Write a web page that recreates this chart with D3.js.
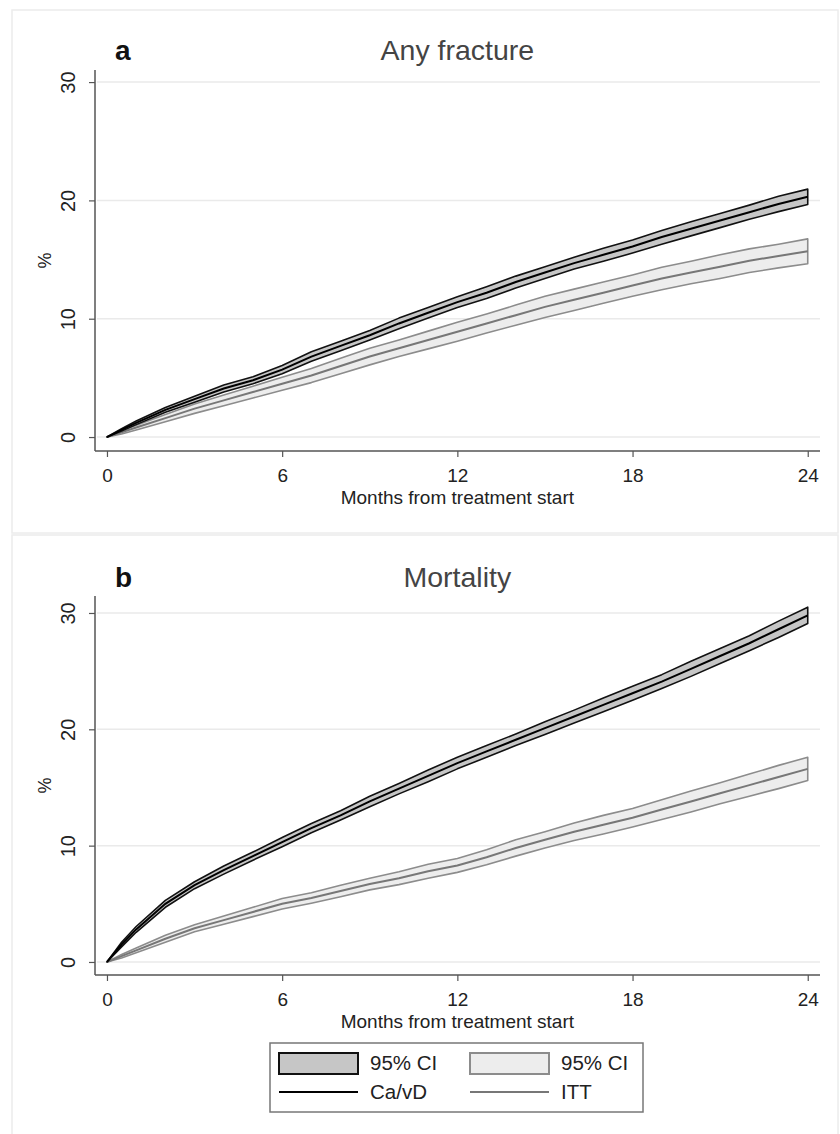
<!DOCTYPE html>
<html>
<head>
<meta charset="utf-8">
<script src="https://cdn.jsdelivr.net/npm/d3@7"></script>
<style>
  body { margin: 0; background: #fff; }
  text { font-family: "Liberation Sans", Arial, sans-serif; }
</style>
</head>
<body>
<div id="app"></div>
<script>
// months from treatment start
const months = [0, 0.5, 1, 2, 3, 4, 5, 6, 7, 8, 9, 10, 11, 12, 13, 14, 15, 16, 17, 18, 19, 20, 21, 22, 23, 24];

// a: any fracture
const fxCaVD   = [0, 0.6, 1.2, 2.3, 3.2, 4.1, 4.8, 5.7, 6.8, 7.7, 8.6, 9.6, 10.5, 11.4, 12.2, 13.1, 13.9, 14.7, 15.4, 16.1, 16.9, 17.6, 18.3, 19.0, 19.7, 20.3];
const fxCaVDLo = [0, 0.5, 1.05, 2.1, 2.95, 3.8, 4.5, 5.35, 6.4, 7.3, 8.2, 9.15, 10.05, 10.95, 11.7, 12.6, 13.4, 14.2, 14.85, 15.55, 16.3, 17.0, 17.7, 18.4, 19.05, 19.65];
const fxCaVDHi = [0, 0.7, 1.35, 2.5, 3.45, 4.4, 5.1, 6.05, 7.2, 8.1, 9.0, 10.05, 10.95, 11.85, 12.7, 13.6, 14.4, 15.2, 15.95, 16.65, 17.45, 18.2, 18.9, 19.6, 20.35, 20.95];
const fxITT    = [0, 0.4, 0.8, 1.6, 2.4, 3.1, 3.8, 4.5, 5.2, 6.0, 6.8, 7.5, 8.2, 8.9, 9.6, 10.3, 11.0, 11.6, 12.2, 12.8, 13.4, 13.9, 14.4, 14.9, 15.3, 15.7];
const fxITTLo  = [0, 0.25, 0.6, 1.3, 2.0, 2.65, 3.3, 3.95, 4.6, 5.35, 6.1, 6.8, 7.45, 8.1, 8.8, 9.45, 10.1, 10.7, 11.3, 11.9, 12.45, 12.95, 13.4, 13.9, 14.3, 14.65];
const fxITTHi  = [0, 0.55, 1.0, 1.9, 2.8, 3.55, 4.3, 5.05, 5.8, 6.65, 7.5, 8.2, 8.95, 9.7, 10.4, 11.15, 11.9, 12.5, 13.1, 13.7, 14.35, 14.85, 15.4, 15.9, 16.3, 16.75];

// b: mortality
const mtCaVD   = [0, 1.5, 2.8, 5.0, 6.6, 7.9, 9.1, 10.3, 11.5, 12.6, 13.8, 14.9, 16.0, 17.1, 18.1, 19.1, 20.1, 21.1, 22.1, 23.1, 24.1, 25.2, 26.3, 27.4, 28.6, 29.8];
const mtCaVDLo = [0, 1.3, 2.55, 4.7, 6.3, 7.55, 8.75, 9.9, 11.1, 12.2, 13.35, 14.45, 15.5, 16.6, 17.6, 18.6, 19.55, 20.55, 21.5, 22.5, 23.5, 24.55, 25.65, 26.75, 27.9, 29.1];
const mtCaVDHi = [0, 1.7, 3.05, 5.3, 6.9, 8.25, 9.45, 10.7, 11.9, 13.0, 14.25, 15.35, 16.5, 17.6, 18.6, 19.6, 20.65, 21.65, 22.7, 23.7, 24.7, 25.85, 26.95, 28.05, 29.3, 30.5];
const mtITT    = [0, 0.5, 1.0, 2.0, 2.9, 3.6, 4.3, 5.0, 5.5, 6.1, 6.7, 7.2, 7.8, 8.3, 9.0, 9.8, 10.5, 11.2, 11.8, 12.4, 13.1, 13.8, 14.5, 15.2, 15.9, 16.6];
const mtITTLo  = [0, 0.35, 0.8, 1.7, 2.6, 3.25, 3.9, 4.55, 5.05, 5.6, 6.2, 6.65, 7.2, 7.7, 8.35, 9.1, 9.8, 10.45, 11.0, 11.6, 12.25, 12.9, 13.6, 14.25, 14.9, 15.6];
const mtITTHi  = [0, 0.65, 1.2, 2.3, 3.2, 3.95, 4.7, 5.45, 5.95, 6.6, 7.2, 7.75, 8.4, 8.9, 9.65, 10.5, 11.2, 11.95, 12.6, 13.2, 13.95, 14.7, 15.4, 16.15, 16.9, 17.6];

const xTicks = [0, 6, 12, 18, 24];
const yTicks = [0, 10, 20, 30];
const panelLetters = ["a", "b"];
const panelTitles = ["Any fracture", "Mortality"];
const xLabel = "Months from treatment start";
const yLabel = "%";
const legendLabels = ["95% CI", "95% CI", "Ca/vD", "ITT"];

const W = 840, H = 1134;
const caStyle = { fill: "#c6c6c6", edge: "#111", line: "#000" };
const ittStyle = { fill: "#ededed", edge: "#8c8c8c", line: "#777" };

const svg = d3.select("#app").append("svg")
  .attr("width", W)
  .attr("height", H)
  .style("display", "block");

const x = d3.scaleLinear().domain([-0.41, 24.42]).range([95, 820]);

const panels = [
  { top: 10, bottom: 533, yDom: [-1.18, 31.02], yRange: [451, 70], titleY: 60,
    ca: [fxCaVD, fxCaVDLo, fxCaVDHi], itt: [fxITT, fxITTLo, fxITTHi] },
  { top: 535, bottom: 1160, yDom: [-1.12, 31.46], yRange: [975, 596], titleY: 587,
    ca: [mtCaVD, mtCaVDLo, mtCaVDHi], itt: [mtITT, mtITTLo, mtITTHi] }
];

panels.forEach((p, i) => {
  const g = svg.append("g");
  const y = d3.scaleLinear().domain(p.yDom).range(p.yRange);
  const axisY = p.yRange[0];

  // panel frame
  g.append("rect")
    .attr("x", 12).attr("y", p.top)
    .attr("width", 826).attr("height", p.bottom - p.top)
    .attr("fill", "#fff")
    .attr("stroke", "#ececec").attr("stroke-width", 1.5);

  // gridlines
  g.append("g").selectAll("line")
    .data(yTicks).join("line")
    .attr("x1", 97).attr("x2", 820)
    .attr("y1", d => y(d)).attr("y2", d => y(d))
    .attr("stroke", "#eaeaea").attr("stroke-width", 1.5);

  // bands + lines
  [[p.itt, ittStyle], [p.ca, caStyle]].forEach(([s, st]) => {
    const rows = months.map((m, k) => ({ m, v: s[0][k], lo: s[1][k], hi: s[2][k] }));
    g.append("path")
      .datum(rows)
      .attr("d", d3.area().x(d => x(d.m)).y0(d => y(d.lo)).y1(d => y(d.hi)))
      .attr("fill", st.fill)
      .attr("stroke", st.edge).attr("stroke-width", 1.6)
      .attr("stroke-linejoin", "round");
    g.append("path")
      .datum(rows)
      .attr("d", d3.line().x(d => x(d.m)).y(d => y(d.v)))
      .attr("fill", "none")
      .attr("stroke", st.line).attr("stroke-width", 2);
  });

  // y axis
  const ya = g.append("g")
    .attr("transform", `translate(95,0)`)
    .call(d3.axisLeft(y).tickValues(yTicks).tickSize(6).tickPadding(8).tickFormat(d3.format("d")));
  ya.select(".domain").attr("stroke", "#555").attr("stroke-width", 1.5).attr("d", `M0,${p.yRange[1]}V${axisY}`);
  ya.selectAll(".tick line").attr("stroke", "#555").attr("stroke-width", 1.2);
  ya.selectAll(".tick text")
    .attr("font-size", 20).attr("fill", "#222")
    .attr("text-anchor", "middle")
    .attr("x", null).attr("dy", null)
    .attr("transform", "translate(-20,0) rotate(-90)");

  // x axis
  const xa = g.append("g")
    .attr("transform", `translate(0,${axisY})`)
    .call(d3.axisBottom(x).tickValues(xTicks).tickSize(6).tickPadding(8));
  xa.select(".domain").attr("stroke", "#555").attr("stroke-width", 1.5).attr("d", "M95,0H820");
  xa.selectAll(".tick line").attr("stroke", "#555").attr("stroke-width", 1.2);
  xa.selectAll(".tick text").attr("font-size", 19).attr("fill", "#222")
    .attr("dy", null).attr("y", 31);

  g.append("text")
    .attr("x", x(12)).attr("y", axisY + 53)
    .attr("text-anchor", "middle")
    .attr("font-size", 19).attr("fill", "#222")
    .text(xLabel);

  g.append("text")
    .attr("transform", `translate(51,${(p.yRange[0] + p.yRange[1]) / 2}) rotate(-90)`)
    .attr("text-anchor", "middle")
    .attr("font-size", 18).attr("fill", "#222")
    .text(yLabel);

  // titles
  g.append("text")
    .attr("x", 115).attr("y", p.titleY)
    .attr("font-size", 28).attr("font-weight", "bold").attr("fill", "#111")
    .text(panelLetters[i]);
  g.append("text")
    .attr("x", x(12)).attr("y", p.titleY)
    .attr("text-anchor", "middle")
    .attr("font-size", 28.5).attr("fill", "#444")
    .text(panelTitles[i]);
});

// legend
const lg = svg.append("g");
lg.append("rect")
  .attr("x", 270).attr("y", 1043).attr("width", 373).attr("height", 69)
  .attr("fill", "#fff").attr("stroke", "#777").attr("stroke-width", 1.5);

const legendItems = [
  { kind: "box", st: caStyle, col: 0, row: 0 },
  { kind: "box", st: ittStyle, col: 1, row: 0 },
  { kind: "line", st: caStyle, col: 0, row: 1 },
  { kind: "line", st: ittStyle, col: 1, row: 1 }
];
legendItems.forEach((it, k) => {
  const x0 = it.col === 0 ? 279 : 470;
  const cy = it.row === 0 ? 1063 : 1092;
  if (it.kind === "box") {
    lg.append("rect")
      .attr("x", x0).attr("y", cy - 10).attr("width", 79).attr("height", 21)
      .attr("fill", it.st.fill).attr("stroke", it.st.edge).attr("stroke-width", 2);
  } else {
    lg.append("line")
      .attr("x1", x0).attr("x2", x0 + 79).attr("y1", cy).attr("y2", cy)
      .attr("stroke", it.st.line).attr("stroke-width", 2);
  }
  lg.append("text")
    .attr("x", x0 + 91).attr("y", cy + 7)
    .attr("font-size", 20.5).attr("fill", "#222")
    .text(legendLabels[k]);
});
</script>
</body>
</html>
